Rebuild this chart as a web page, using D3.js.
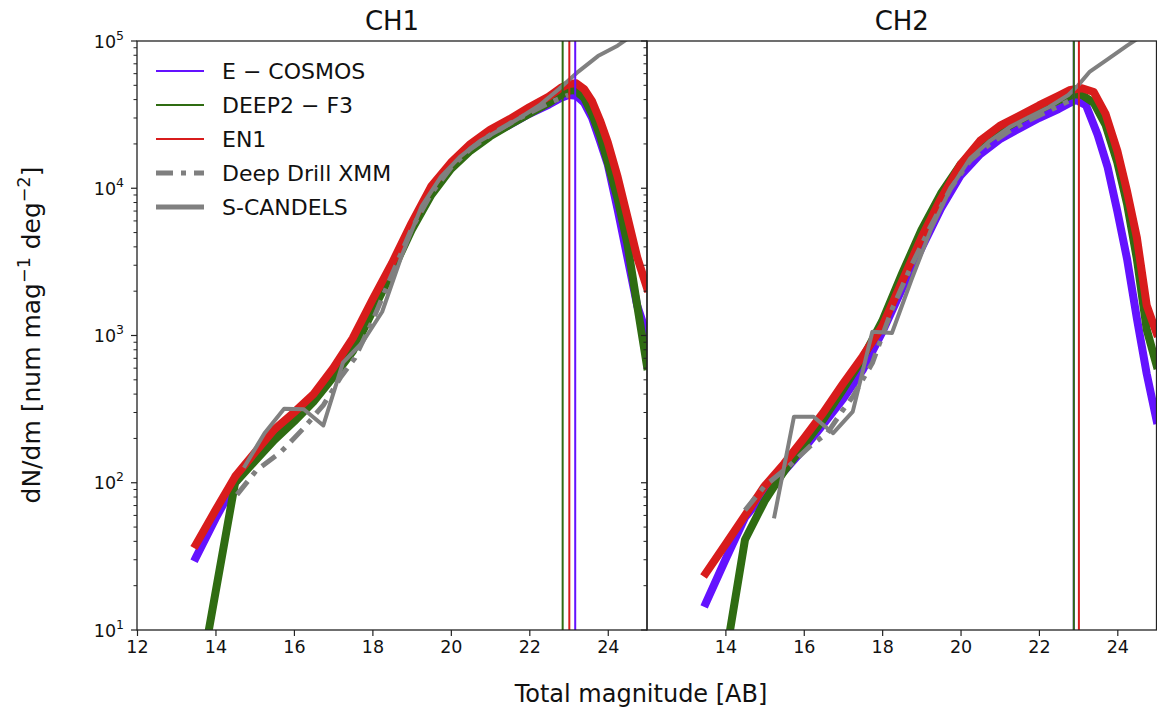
<!DOCTYPE html>
<html><head><meta charset="utf-8">
<script src="https://cdn.jsdelivr.net/npm/d3@7"></script>
<style>
body{margin:0;background:#fff}
text{font-family:"DejaVu Sans",sans-serif;fill:#111}
</style>
</head><body><svg id="c" width="1157" height="711"></svg>
<script>
// ---------------- data ----------------
const panelTitles = ["CH1", "CH2"];
const seriesNames = ["E \u2212 COSMOS", "DEEP2 \u2212 F3", "EN1", "Deep Drill XMM", "S-CANDELS"];
const magTicksCH1 = [12, 14, 16, 18, 20, 22, 24];
const magTicksCH2 = [14, 16, 18, 20, 22, 24];
const yTickExponents = [1, 2, 3, 4, 5];

// [magnitude, dN/dm]
const ch1_ecosmos = [[13.5,31],[14,57],[14.5,100],[15,145],[15.5,210],[16,280],[16.5,370],[17,540],[17.5,850],[18,1550],[18.5,2900],[19,5500],[19.5,9600],[20,14000],[20.5,18500],[21,23000],[21.5,27000],[22,32000],[22.5,37000],[22.8,41000],[23,43000],[23.2,42500],[23.4,38000],[23.6,30000],[23.8,21000],[24,14500],[24.25,7200],[24.5,3400],[24.75,1600],[25,1000]];
const ch1_deep2 = [[13.5,3.2],[14.5,100],[15,140],[15.5,195],[16,260],[16.5,355],[17,520],[17.5,780],[18,1450],[18.5,2700],[19,5200],[19.5,9000],[20,13500],[20.5,18000],[21,22500],[21.5,27000],[22,32000],[22.5,38000],[22.8,43000],[23,46000],[23.15,46500],[23.4,41000],[23.6,32000],[23.8,23000],[24,15000],[24.25,8500],[24.5,4200],[24.75,1600],[25,620]];
const ch1_en1 = [[13.5,38],[14,65],[14.5,110],[15,160],[15.5,230],[16,300],[16.5,400],[17,600],[17.5,960],[18,1750],[18.5,3100],[19,5800],[19.5,10300],[20,14900],[20.5,20000],[21,25000],[21.5,29500],[22,35500],[22.5,42000],[22.8,48000],[23,51000],[23.2,51600],[23.4,47000],[23.6,39000],[23.8,29000],[24,20500],[24.25,12000],[24.5,6400],[24.75,3400],[25,2100]];
const ch1_deepdrill = [[14.55,83],[15.05,122],[15.65,160],[16.25,235],[16.75,337],[17.2,525],[17.55,700],[18,1250],[18.5,2600],[19,5300],[19.5,9200],[20,13800],[20.5,18500],[21,23000],[21.5,27500],[22,32500],[22.5,38000],[23,43000]];
const ch1_scandels = [[14.75,130],[15.25,217],[15.75,318],[16.25,316],[16.75,245],[17.25,655],[17.75,900],[18.25,1450],[18.75,3500],[19.25,7500],[19.75,12000],[20.25,16500],[20.75,21000],[21.25,25000],[21.75,30000],[22.25,36500],[22.75,47000],[23.25,62000],[23.75,79000],[24.25,93000],[24.75,115000]];

const ch2_ecosmos = [[13.5,15.2],[14,30],[14.5,58],[15,85],[15.5,120],[16,170],[16.5,250],[17,370],[17.5,580],[18,1050],[18.5,2050],[19,3900],[19.5,7300],[20,12200],[20.5,17000],[21,21500],[21.5,25500],[22,30000],[22.5,34500],[22.75,37500],[22.95,39800],[23.2,36700],[23.5,23000],[23.75,14000],[24,7000],[24.25,3300],[24.5,1300],[24.75,550],[25,267]];
const ch2_deep2 = [[13.5,1.0],[14.5,41],[15,75],[15.5,120],[16,180],[16.5,270],[17,430],[17.5,700],[18,1250],[18.5,2600],[19,5200],[19.5,9200],[20,14500],[20.5,19500],[21,24500],[21.5,29000],[22,34000],[22.5,39500],[22.9,43500],[23.1,43000],[23.4,38000],[23.7,27000],[24,15000],[24.25,7800],[24.5,3300],[24.75,1100],[25,630]];
const ch2_en1 = [[13.5,24.3],[14,38],[14.5,60],[15,95],[15.5,135],[16,200],[16.5,300],[17,470],[17.5,720],[18,1150],[18.5,2300],[19,4600],[19.5,8500],[20,14500],[20.5,21000],[21,26500],[21.5,31000],[22,36500],[22.5,42500],[22.8,46500],[23.1,47800],[23.4,45000],[23.7,32000],[24,18000],[24.25,9500],[24.5,4600],[24.75,1600],[25,1040]];
const ch2_deepdrill = [[14.5,65],[15,95],[15.6,128],[16.15,176],[16.6,217],[17,312],[17.25,384],[17.75,650],[18.25,1500],[18.75,3000],[19.25,5600],[19.75,10000],[20.25,15500],[20.75,20000],[21.25,24500],[21.75,29000],[22.25,33500],[22.75,39000]];
const ch2_scandels = [[15.25,59],[15.75,281],[16.25,281],[16.75,217],[17.25,304],[17.75,1060],[18.25,1040],[18.75,2400],[19.25,5300],[19.75,10000],[20.25,16000],[20.75,21000],[21.25,26000],[21.75,30500],[22.25,35500],[22.75,43000],[23,50000],[23.3,62000],[23.75,75000],[24.25,93000],[24.75,114000]];

// magnitude limits (vertical lines): E-COSMOS, DEEP2-F3, EN1
const ch1_limits = [23.17, 22.85, 23.02];
const ch2_limits = [22.89, 22.89, 23.02];

// ---------------- style ----------------
const colors = ["#6412ff", "#2f6c12", "#d81c1c", "#7f7f7f", "#808080"];
const plotTop = 41, plotBottom = 630;
const panelX = [[137, 647], [647, 1156.5]];

const svg = d3.select("#c");
const y = d3.scaleLog().domain([10, 1e5]).range([plotBottom, plotTop]);

const panels = [
  {title: panelTitles[0], ticks: magTicksCH1, series: [ch1_ecosmos, ch1_deep2, ch1_en1, ch1_deepdrill, ch1_scandels], limits: ch1_limits, yLabels: true},
  {title: panelTitles[1], ticks: magTicksCH2, series: [ch2_ecosmos, ch2_deep2, ch2_en1, ch2_deepdrill, ch2_scandels], limits: ch2_limits, yLabels: false}
];

panels.forEach((p, i) => {
  const x = d3.scaleLinear().domain([12, 25]).range(panelX[i]);
  const g = svg.append("g");
  const clipId = "clip" + i;
  svg.append("defs").append("clipPath").attr("id", clipId)
    .append("rect").attr("x", panelX[i][0]).attr("y", plotTop)
    .attr("width", panelX[i][1] - panelX[i][0]).attr("height", plotBottom - plotTop);

  const line = d3.line().x(d => x(d[0])).y(d => y(d[1]));
  const plot = g.append("g").attr("clip-path", `url(#${clipId})`);

  [0, 1, 2].forEach(k => {
    plot.append("path").datum(p.series[k]).attr("d", line)
      .attr("fill", "none").attr("stroke", colors[k]).attr("stroke-width", 8)
      .attr("stroke-linejoin", "round").attr("stroke-linecap", "square");
  });
  plot.append("path").datum(p.series[3]).attr("d", line)
    .attr("fill", "none").attr("stroke", colors[3]).attr("stroke-width", 5)
    .attr("stroke-dasharray", "17,8,5,8").attr("stroke-linejoin", "round");
  plot.append("path").datum(p.series[4]).attr("d", line)
    .attr("fill", "none").attr("stroke", colors[4]).attr("stroke-width", 4)
    .attr("stroke-linejoin", "round").attr("stroke-linecap", "square");

  [0, 1, 2].forEach(k => {
    plot.append("line").attr("x1", x(p.limits[k])).attr("x2", x(p.limits[k]))
      .attr("y1", plotTop).attr("y2", plotBottom).attr("stroke", colors[k]).attr("stroke-width", 2);
  });

  g.append("rect").attr("x", panelX[i][0]).attr("y", plotTop)
    .attr("width", panelX[i][1] - panelX[i][0]).attr("height", plotBottom - plotTop)
    .attr("fill", "none").attr("stroke", "#222").attr("stroke-width", 1.3);

  const xa = d3.axisBottom(x).tickValues(p.ticks).tickSize(6).tickPadding(5).tickFormat(d3.format("d"));
  const xg = g.append("g").attr("transform", `translate(0,${plotBottom})`).call(xa);
  xg.select(".domain").remove();
  xg.selectAll("line").attr("stroke", "#222").attr("stroke-width", 1.2);
  xg.selectAll("text").style("font-size", "17.5px").style("font-family", "DejaVu Sans").attr("fill", "#111");

  const x0 = panelX[i][0];
  const majors = yTickExponents.map(e => Math.pow(10, e));
  const minors = [];
  yTickExponents.slice(0, -1).forEach(e => { for (let k = 2; k <= 9; k++) minors.push(k * Math.pow(10, e)); });
  g.selectAll(".ymaj").data(majors).enter().append("line")
    .attr("x1", x0 - 6).attr("x2", x0).attr("y1", d => y(d)).attr("y2", d => y(d))
    .attr("stroke", "#222").attr("stroke-width", 1.2);
  g.selectAll(".ymin").data(minors).enter().append("line")
    .attr("x1", x0 - 3.5).attr("x2", x0).attr("y1", d => y(d)).attr("y2", d => y(d))
    .attr("stroke", "#222").attr("stroke-width", 1);
  if (p.yLabels) {
    yTickExponents.forEach(e => {
      const t = g.append("text").attr("x", x0 - 13).attr("y", y(Math.pow(10, e)) + 6.5)
        .attr("text-anchor", "end").style("font-size", "17.5px");
      t.append("tspan").text("10");
      t.append("tspan").attr("dy", -8).style("font-size", "12.5px").text(String(e));
    });
  }

  g.append("text").attr("x", (panelX[i][0] + panelX[i][1]) / 2).attr("y", 30)
    .attr("text-anchor", "middle").style("font-size", "26px").text(p.title);
});

svg.append("text").attr("x", 641).attr("y", 702).attr("text-anchor", "middle")
  .style("font-size", "24px").text("Total magnitude [AB]");

const yl = svg.append("text").attr("transform", "translate(40,335) rotate(-90)")
  .attr("text-anchor", "middle").style("font-size", "25px");
yl.append("tspan").text("dN/dm [num mag");
yl.append("tspan").attr("dy", -10).style("font-size", "17.5px").text("\u22121");
yl.append("tspan").attr("dy", 10).text(" deg");
yl.append("tspan").attr("dy", -10).style("font-size", "17.5px").text("\u22122");
yl.append("tspan").attr("dy", 10).text("]");

const legY = [71, 105, 139, 173, 207];
const leg = svg.append("g");
seriesNames.forEach((name, k) => {
  const ln = leg.append("line").attr("x1", 156).attr("x2", 204).attr("y1", legY[k]).attr("y2", legY[k])
    .attr("stroke", colors[k]);
  if (k < 3) ln.attr("stroke-width", 2);
  else if (k === 3) ln.attr("stroke-width", 5).attr("stroke-dasharray", "17,8,5,8");
  else ln.attr("stroke-width", 5);
  leg.append("text").attr("x", 222).attr("y", legY[k] + 8).style("font-size", "22px").text(name);
});
</script>
</body></html>
